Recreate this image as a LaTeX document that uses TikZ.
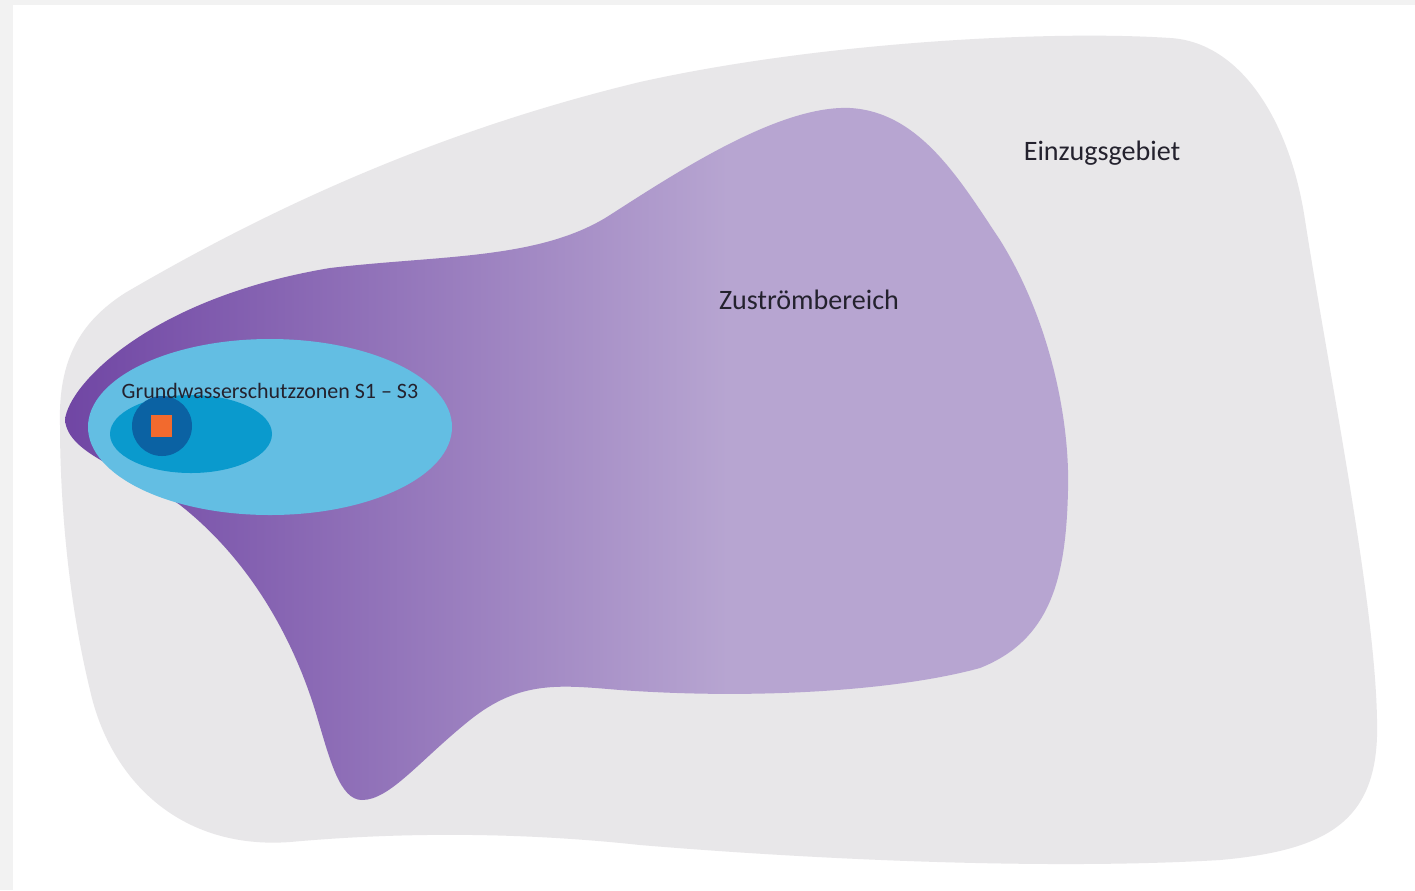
\documentclass[tikz,border=0pt]{standalone}
\usepackage{fontspec}
\setmainfont{Carlito}
\usetikzlibrary{positioning}
\definecolor{mFrame}{HTML}{F2F2F2}
\definecolor{mGray}{HTML}{E8E7E9}
\definecolor{mPurpleDark}{HTML}{7046A4}
\definecolor{mPurpleLight}{HTML}{B7A5D1}
\definecolor{mBlueLight}{HTML}{63BEE3}
\definecolor{mBlueMid}{HTML}{0A9ACD}
\definecolor{mBlueDark}{HTML}{0B62A3}
\definecolor{mOrange}{HTML}{F26A2E}
\definecolor{mText}{HTML}{24222E}
\pgfdeclarehorizontalshading{zustrom}{100bp}{color(0bp)=(mPurpleDark); color(25bp)=(mPurpleDark); color(58bp)=(mPurpleLight); color(100bp)=(mPurpleLight)}
\tikzset{zonelabel/.style={text=mText,inner sep=0pt,font=\fontsize{16}{18}\selectfont}}

\begin{document}
\begin{tikzpicture}[x=0.02cm,y=-0.02cm]
        \useasboundingbox (0,0) rectangle (1415,890);
        \fill[mFrame] (0,0) rectangle (1415,890);
        \fill[white] (13,5) rectangle (1415,890);
        % Einzugsgebiet
        \fill[mGray] (60,425) .. controls (58,360) and (80,322) .. (125,293)
          .. controls (250,220) and (420,135) .. (640,82)
          .. controls (820,42) and (1050,30) .. (1170,38)
          .. controls (1240,42) and (1290,120) .. (1305,220)
          .. controls (1330,380) and (1375,600) .. (1377,720)
          .. controls (1380,820) and (1330,850) .. (1220,860)
          .. controls (1050,870) and (820,860) .. (640,845)
          .. controls (520,832) and (400,832) .. (290,842)
          .. controls (180,850) and (110,780) .. (90,690)
          .. controls (68,600) and (60,500) .. (60,425) -- cycle;
        % Zustroembereich
        \shade[shading=zustrom] (65,420) .. controls (68,385) and (150,298) .. (330,268)
          .. controls (440,255) and (540,260) .. (610,215)
          .. controls (680,170) and (780,105) .. (850,108)
          .. controls (920,112) and (960,180) .. (1000,240)
          .. controls (1050,320) and (1070,420) .. (1068,490)
          .. controls (1066,580) and (1050,640) .. (980,668)
          .. controls (900,690) and (760,700) .. (620,690)
          .. controls (560,685) and (520,680) .. (470,720)
          .. controls (420,760) and (390,800) .. (362,800)
          .. controls (340,800) and (330,760) .. (318,720)
          .. controls (295,640) and (250,560) .. (180,505)
          .. controls (130,470) and (68,455) .. (65,420) -- cycle;
        % Schutzzonen S3, S2, S1, Fassung
        \fill[mBlueLight] (270,427) ellipse [x radius=182,y radius=88];
        \fill[mBlueMid] (191,434) ellipse [x radius=81,y radius=39];
        \fill[mBlueDark] (162,426) circle (30);
        \fill[mOrange] (151,415) rectangle (172,437);
        \node[zonelabel] (einzug) at (1102,153) {Einzugsgebiet};
        \node[zonelabel] (zustrom) at (809,300) {Zuströmbereich};
        \node[zonelabel,font=\fontsize{12.5}{14}\selectfont] (schutz) at (270,391) {Grundwasserschutzzonen S1 – S3};
      \end{tikzpicture}
\end{document}
